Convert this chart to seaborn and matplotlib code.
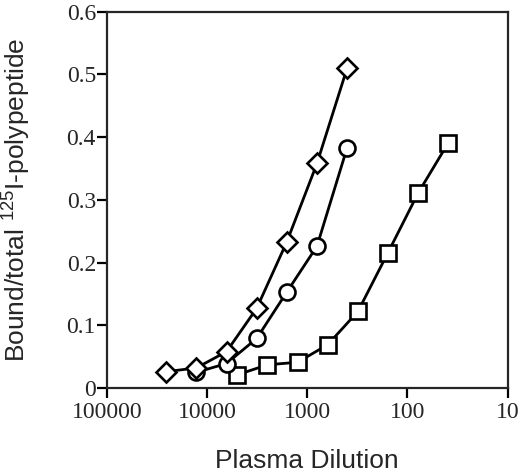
import matplotlib
matplotlib.use("Agg")
import matplotlib.pyplot as plt
import matplotlib.ticker as mticker
import seaborn as sns
import pandas as pd

sns.set_style("ticks")
plt.rcParams['font.family'] = ['Liberation Sans', 'DejaVu Sans']
plt.rcParams['mathtext.fontset'] = 'custom'
plt.rcParams['mathtext.rm'] = 'Liberation Sans'

diamond_x = [25600, 12800, 6400, 3200, 1600, 800, 400]
diamond_y = [0.026, 0.032, 0.058, 0.127, 0.233, 0.358, 0.510]
circle_x = [12800, 6400, 3200, 1600, 800, 400]
circle_y = [0.025, 0.039, 0.079, 0.153, 0.226, 0.383]
square_x = [5000, 2500, 1250, 625, 312, 156, 78, 39]
square_y = [0.021, 0.037, 0.041, 0.069, 0.122, 0.216, 0.311, 0.391]

x_ticks = [100000, 10000, 1000, 100, 10]
x_labels = ["100000", "10000", "1000", "100", "10"]
y_ticks = [0, 0.1, 0.2, 0.3, 0.4, 0.5, 0.6]
y_labels = ["0", "0.1", "0.2", "0.3", "0.4", "0.5", "0.6"]

fig = plt.figure(figsize=(5.2, 4.75), dpi=100)
ax = fig.add_axes([0.2058, 0.1832, 0.7702, 0.7922])

series = [
    (square_x, square_y, 's', 11.5),
    (circle_x, circle_y, 'o', 11.5),
    (diamond_x, diamond_y, 'D', 10.5),
]
for xs, ys, mk, ms in series:
    df = pd.DataFrame({"x": xs, "y": ys})
    sns.lineplot(data=df, x="x", y="y", ax=ax, color='black', lw=2.0,
                 marker=mk, ms=ms, mfc='white', mec='black', mew=1.9,
                 sort=False, estimator=None)

ax.set_xscale('log')
ax.set_xlim(100000, 10)
ax.set_ylim(0, 0.6)
ax.xaxis.set_major_locator(mticker.FixedLocator(x_ticks))
ax.xaxis.set_major_formatter(mticker.FixedFormatter(x_labels))
ax.xaxis.set_minor_locator(mticker.NullLocator())
ax.set_yticks(y_ticks)
ax.set_yticklabels(y_labels)

for s in ax.spines.values():
    s.set_linewidth(1.6)
    s.set_visible(True)
ax.tick_params(axis='both', direction='out', length=7, width=1.6,
               labelsize=17, color='black')
ax.tick_params(axis='y', pad=1)
ax.tick_params(axis='x', pad=3)
for lab in ax.get_xticklabels() + ax.get_yticklabels():
    lab.set_fontfamily('Liberation Serif')

ax.set_xlabel("Plasma Dilution", fontsize=19, labelpad=19)
ax.set_ylabel(r"Bound/total $\mathregular{^{125}}$I-polypeptide", fontsize=19, labelpad=24)

fig.savefig("out.png", dpi=100)
